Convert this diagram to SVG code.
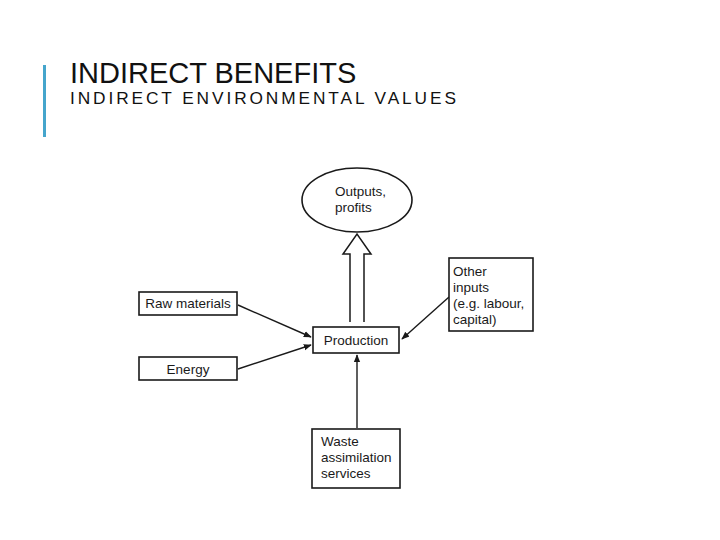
<svg xmlns="http://www.w3.org/2000/svg" width="720" height="540" viewBox="0 0 720 540">
<defs>
<style>
.title{font-family:"Liberation Sans",Arial,sans-serif;fill:#111;}
.box{fill:#fff;stroke:#1a1a1a;stroke-width:1.6;}
.lbl{font-family:"Liberation Sans",Arial,sans-serif;font-size:13.5px;fill:#1a1a1a;}
.conn{stroke:#1a1a1a;stroke-width:1.4;fill:none;marker-end:url(#ah);}
</style>
<marker id="ah" viewBox="0 0 10 10" refX="9" refY="5" markerWidth="8" markerHeight="8" markerUnits="userSpaceOnUse" orient="auto">
<path d="M0,1 L10,5 L0,9 Z" fill="#1a1a1a"/>
</marker>
</defs>
<rect width="720" height="540" fill="#fff"/>
<rect x="43" y="65" width="3" height="72" fill="#45a5cc"/>
<text class="title" x="70" y="83" font-size="29">INDIRECT BENEFITS</text>
<text class="title" x="70" y="104" font-size="17.3" letter-spacing="2.9">INDIRECT ENVIRONMENTAL VALUES</text>
<g id="connectors">
<path class="conn" d="M238,305 L311,337"/>
<path class="conn" d="M238,369 L311,345"/>
<path class="conn" d="M449,297 L402,339"/>
<path class="conn" d="M357,428 L357,355"/>
<path d="M350,322 L350,254 L343,254 L357,234 L371,254 L364,254 L364,322" fill="#fff" stroke="#1a1a1a" stroke-width="1.5" stroke-linejoin="miter"/>
</g>
<g id="outputs">
<ellipse class="box" cx="357" cy="200" rx="55" ry="32"/>
<text class="lbl" x="335" y="196">Outputs,</text>
<text class="lbl" x="335" y="212">profits</text>
</g>
<g id="raw">
<rect class="box" x="139" y="292" width="98" height="23"/>
<text class="lbl" x="188" y="308" text-anchor="middle">Raw materials</text>
</g>
<g id="energy">
<rect class="box" x="139" y="357" width="98" height="23"/>
<text class="lbl" x="188" y="374" text-anchor="middle">Energy</text>
</g>
<g id="production">
<rect class="box" x="313" y="327" width="86" height="26"/>
<text class="lbl" x="356" y="345" text-anchor="middle">Production</text>
</g>
<g id="other">
<rect class="box" x="449" y="258" width="84" height="73"/>
<text class="lbl" x="453" y="276">Other</text>
<text class="lbl" x="453" y="292">inputs</text>
<text class="lbl" x="453" y="308">(e.g. labour,</text>
<text class="lbl" x="453" y="324">capital)</text>
</g>
<g id="waste">
<rect class="box" x="312" y="429" width="88" height="59"/>
<text class="lbl" x="321" y="446">Waste</text>
<text class="lbl" x="321" y="462">assimilation</text>
<text class="lbl" x="321" y="478">services</text>
</g>
</svg>
